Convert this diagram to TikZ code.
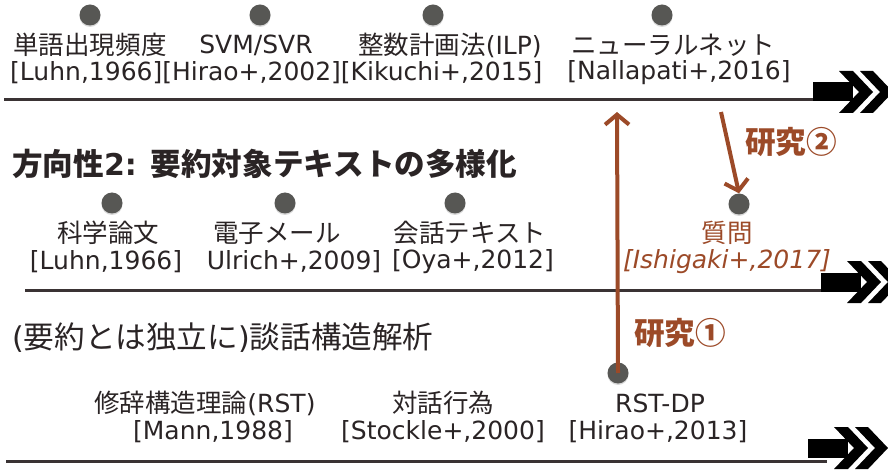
\documentclass[tikz,border=0pt]{standalone}
\usepackage{fontspec}
\setmainfont{DejaVu Sans}
\newfontfamily\jpf[Scale=1.02]{Noto Sans CJK JP}
\newcommand\J[1]{{\jpf #1}}
\usetikzlibrary{arrows.meta,shadows}
\definecolor{txt}{HTML}{2A2425}
\definecolor{tl}{HTML}{3A3334}
\definecolor{brn}{HTML}{9C4A28}
\definecolor{dotc}{HTML}{575754}
\tikzset{
  lbl/.style={inner sep=0pt, text=txt, font=\fontsize{25}{28}\selectfont},
  head/.style={inner sep=0pt, text=txt, font=\fontsize{30}{34}\selectfont},
  blbl/.style={inner sep=0pt, text=brn, font=\fontsize{30}{34}\selectfont\bfseries},
  evdot/.style={circle, fill=dotc, minimum size=21pt, inner sep=0pt,
    drop shadow={opacity=0.3, shadow xshift=0pt, shadow yshift=-1.5pt}},
  tline/.style={draw=tl, line width=3pt},
  resarrow/.style={draw=brn, line width=4pt, -{Straight Barb[length=10pt,width=24pt,line width=4pt]}},
  fastarrow/.pic={
    \fill[black] (0,-9.5) rectangle (40,9.5);
    \fill[black] (26,-21) -- (40,-21) -- (60,0) -- (40,21) -- (26,21) -- (46,0) -- cycle;
    \fill[black] (47,-21) -- (60,-21) -- (80,0) -- (60,21) -- (47,21) -- (67,0) -- cycle;
  }
}
\begin{document}
\begin{tikzpicture}[x=1pt,y=-1pt]
\useasboundingbox[fill=white] (0,0) rectangle (888,470);

% ---------- top timeline ----------
\node[evdot] (d1) at (90,15) {};
\node[evdot] (d2) at (260,15) {};
\node[evdot] (d3) at (433,15) {};
\node[evdot] (d4) at (662,15) {};
\node[lbl] (t1) at (90,45) {\J{単語出現頻度}};
\node[lbl] (t2) at (256,45) {SVM/SVR};
\node[lbl] (t3) at (450,45) {\J{整数計画法}(ILP)};
\node[lbl] (t4) at (673,45) {\J{ニューラルネット}};
\node[lbl, anchor=west] (c1) at (10,73) {[Luhn,1966][Hirao+,2002][Kikuchi+,2015]};
\node[lbl] (c4) at (679,73) {[Nallapati+,2016]};
\coordinate (L1a) at (4,100);
\coordinate (L1b) at (822,100);
\draw[tline] (L1a) -- (L1b);
\pic at (813,92) {fastarrow};

% ---------- middle timeline ----------
\node[head, font=\fontsize{30}{34}\selectfont\bfseries, anchor=west] (h2) at (12,164) {\J{方向性}2: \J{要約対象テキストの多様化}};
\node[evdot] (m1) at (112,203) {};
\node[evdot] (m2) at (285,203) {};
\node[evdot] (m3) at (455,203) {};
\node[evdot] (m4) at (739,204) {};
\node[lbl] (mt1) at (108,233) {\J{科学論文}};
\node[lbl] (mt2) at (277,233) {\J{電子メール}};
\node[lbl] (mt3) at (470,233) {\J{会話テキスト}};
\node[lbl, text=brn] (mt4) at (727,233) {\J{質問}};
\node[lbl] (mc1) at (106,262) {[Luhn,1966]};
\node[lbl] (mc2) at (294,262) {Ulrich+,2009]};
\node[lbl] (mc3) at (473,262) {[Oya+,2012]};
\node[lbl, text=brn, font=\fontsize{25}{28}\selectfont\itshape] (mc4) at (727,262) {[Ishigaki+,2017]};
\coordinate (L2a) at (25,290);
\coordinate (L2b) at (826,290);
\draw[tline] (L2a) -- (L2b);
\pic at (821,282) {fastarrow};

% ---------- bottom timeline ----------
\node[head, anchor=west] (h3) at (12,338) {(\J{要約とは独立に})\J{談話構造解析}};
\node[evdot] (b3) at (618,373) {};
\node[lbl] (bt1) at (205,403) {\J{修辞構造理論}(RST)};
\node[lbl] (bt2) at (443,403) {\J{対話行為}};
\node[lbl] (bt3) at (660,403) {RST-DP};
\node[lbl] (bc1) at (213,432) {[Mann,1988]};
\node[lbl] (bc2) at (443,432) {[Stockle+,2000]};
\node[lbl] (bc3) at (658,432) {[Hirao+,2013]};
\coordinate (L3a) at (6,461);
\coordinate (L3b) at (827,461);
\draw[tline] (L3a) -- (L3b);
\pic at (808,448) {fastarrow};

% ---------- research arrows ----------
\coordinate (r1end) at (617,112);
\draw[resarrow] (b3.center) -- (r1end);
\node[blbl] (r1lbl) at (680,333) {\J{研究①}};
\coordinate (r2start) at (721,112);
\draw[resarrow] (r2start) -- (m4.north);
\node[blbl] (r2lbl) at (791,142) {\J{研究②}};
\end{tikzpicture}
\end{document}
